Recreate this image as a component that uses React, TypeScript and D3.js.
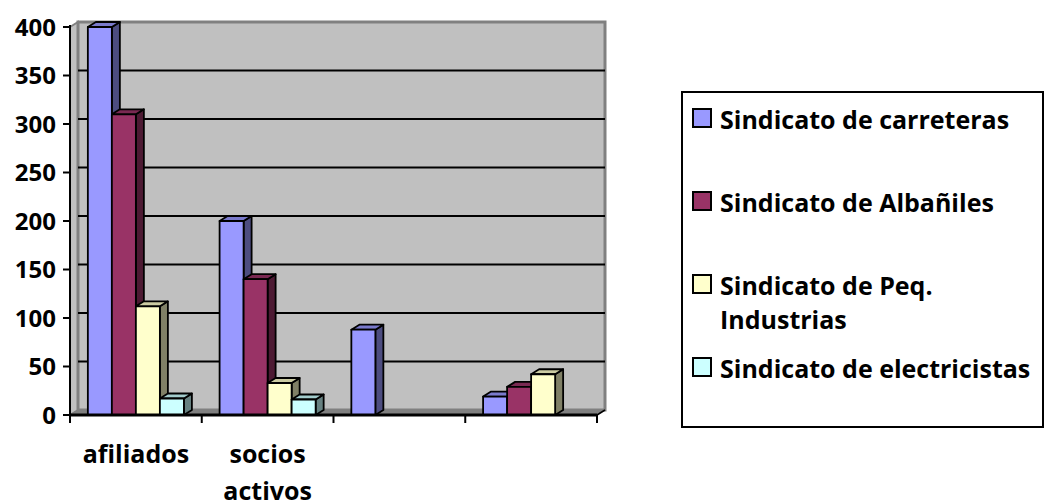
import { useEffect, useRef } from "react"
import * as d3 from "d3"

const categories = ["afiliados", "socios activos", "", ""]
const seriesNames = [
  "Sindicato de carreteras",
  "Sindicato de Albañiles",
  "Sindicato de Peq. Industrias",
  "Sindicato de electricistas",
]
const carreteras = [400, 200, 88, 19]
const albaniles = [310, 140, null, 29]
const peqIndustrias = [112, 33, null, 42]
const electricistas = [17, 16, null, null]
const yTicks = [0, 50, 100, 150, 200, 250, 300, 350, 400]
const legendLines = [
  ["Sindicato de carreteras"],
  ["Sindicato de Albañiles"],
  ["Sindicato de Peq.", "Industrias"],
  ["Sindicato de electricistas"],
]

const front = ["#9999FF", "#993366", "#FFFFCC", "#CCFFFF"]
const top = ["#7A7ACC", "#7A2952", "#CCCCA3", "#A3CCCC"]
const side = ["#4D4D80", "#4D1A33", "#808066", "#668080"]

export default function App() {
  const svgRef = useRef<SVGSVGElement>(null)

  useEffect(() => {
    if (!svgRef.current) return
    const width = 1047
    const height = 501
    const dx = 8
    const dy = 5
    const font = "'Open Sans', sans-serif"

    d3.select(svgRef.current).selectAll("*").remove()
    const svg = d3.select(svgRef.current).attr("width", width).attr("height", height)

    const values = [carreteras, albaniles, peqIndustrias, electricistas]
    const y = d3.scaleLinear().domain([0, 400]).range([415, 27])
    const x0 = d3
      .scaleBand<number>()
      .domain(d3.range(categories.length))
      .range([70, 597])
      .paddingInner(0.271)
      .paddingOuter(0.1355)
    const x1 = d3.scaleBand<number>().domain(d3.range(seriesNames.length)).range([0, x0.bandwidth()])
    const left = 70
    const right = 597

    // walls + floor
    svg
      .append("polygon")
      .attr("points", `${left},${y(0)} ${left},${y(400)} ${left + dx},${y(400) - dy} ${left + dx},${y(0) - dy}`)
      .attr("fill", "#C0C0C0")
      .attr("stroke", "#808080")
      .attr("stroke-width", 2)
    svg
      .append("rect")
      .attr("x", left + dx)
      .attr("y", y(400) - dy)
      .attr("width", right - left)
      .attr("height", y(0) - y(400))
      .attr("fill", "#C0C0C0")
      .attr("stroke", "#808080")
      .attr("stroke-width", 3)
    svg
      .append("polygon")
      .attr("points", `${left},${y(0)} ${right},${y(0)} ${right + dx},${y(0) - dy} ${left + dx},${y(0) - dy}`)
      .attr("fill", "#808080")
      .attr("stroke", "#808080")
      .attr("stroke-width", 1)

    // gridlines
    svg
      .selectAll(".grid")
      .data(yTicks.filter((t) => t > 0 && t < 400))
      .enter()
      .append("line")
      .attr("x1", left + dx)
      .attr("x2", right + dx)
      .attr("y1", (d) => y(d) - dy)
      .attr("y2", (d) => y(d) - dy)
      .attr("stroke", "#000")
      .attr("stroke-width", 2)

    // bars
    const g = svg.append("g").attr("stroke", "#000").attr("stroke-width", 1.8).attr("stroke-linejoin", "round")
    categories.forEach((_, i) => {
      values.forEach((arr, j) => {
        const v = arr[i]
        if (v == null) return
        const x = (x0(i) as number) + (x1(j) as number)
        const w = x1.bandwidth()
        const yt = y(v)
        const yb = y(0)
        g.append("polygon")
          .attr("points", `${x + w},${yt} ${x + w + dx},${yt - dy} ${x + w + dx},${yb - dy} ${x + w},${yb}`)
          .attr("fill", side[j])
        g.append("polygon")
          .attr("points", `${x},${yt} ${x + dx},${yt - dy} ${x + w + dx},${yt - dy} ${x + w},${yt}`)
          .attr("fill", top[j])
        g.append("rect").attr("x", x).attr("y", yt).attr("width", w).attr("height", yb - yt).attr("fill", front[j])
      })
    })

    // axes
    svg
      .append("line")
      .attr("x1", left)
      .attr("x2", left)
      .attr("y1", y(400) - 2)
      .attr("y2", y(0))
      .attr("stroke", "#000")
      .attr("stroke-width", 2)
    svg
      .append("line")
      .attr("x1", left)
      .attr("x2", right)
      .attr("y1", y(0))
      .attr("y2", y(0))
      .attr("stroke", "#000")
      .attr("stroke-width", 3)
    svg
      .append("line")
      .attr("x1", right)
      .attr("x2", right + dx)
      .attr("y1", y(0))
      .attr("y2", y(0) - dy)
      .attr("stroke", "#000")
      .attr("stroke-width", 1.5)

    svg
      .selectAll(".ytick")
      .data(yTicks)
      .enter()
      .append("line")
      .attr("x1", left - 7)
      .attr("x2", left)
      .attr("y1", (d) => y(d))
      .attr("y2", (d) => y(d))
      .attr("stroke", "#000")
      .attr("stroke-width", 2)
    svg
      .selectAll(".ylabel")
      .data(yTicks)
      .enter()
      .append("text")
      .attr("x", 56)
      .attr("y", (d) => y(d))
      .attr("dy", "0.36em")
      .attr("text-anchor", "end")
      .attr("font-family", font)
      .attr("font-weight", 700)
      .attr("font-size", 24)
      .text((d) => d)

    const xTicks = d3.range(categories.length + 1).map((i) => left + ((right - left) * i) / categories.length)
    svg
      .selectAll(".xtick")
      .data(xTicks)
      .enter()
      .append("line")
      .attr("x1", (d) => d)
      .attr("x2", (d) => d)
      .attr("y1", y(0))
      .attr("y2", y(0) + 8)
      .attr("stroke", "#000")
      .attr("stroke-width", 2)

    categories.forEach((c, i) => {
      if (!c) return
      const cx = (xTicks[i] + xTicks[i + 1]) / 2
      const t = svg
        .append("text")
        .attr("text-anchor", "middle")
        .attr("font-family", font)
        .attr("font-weight", 700)
        .attr("font-size", 25)
      c.split(" ").forEach((word, k) => {
        t.append("tspan").attr("x", cx).attr("y", 463 + k * 37).text(word)
      })
    })

    // legend
    svg
      .append("rect")
      .attr("x", 682)
      .attr("y", 92)
      .attr("width", 361)
      .attr("height", 335)
      .attr("fill", "#fff")
      .attr("stroke", "#000")
      .attr("stroke-width", 2)
    const ly = d3.scalePoint<number>().domain(d3.range(seriesNames.length)).range([129, 378])
    legendLines.forEach((lines, j) => {
      const base = ly(j) as number
      svg
        .append("rect")
        .attr("x", 693)
        .attr("y", base - 20)
        .attr("width", 18)
        .attr("height", 18)
        .attr("fill", front[j])
        .attr("stroke", "#000")
        .attr("stroke-width", 2)
      const t = svg
        .append("text")
        .attr("font-family", font)
        .attr("font-weight", 700)
        .attr("font-size", 25)
      lines.forEach((line, k) => {
        t.append("tspan").attr("x", 720).attr("y", base + k * 34).text(line)
      })
    })
  }, [])

  return (
    <div style={{ position: "absolute", left: 0, top: 0 }}>
      <svg ref={svgRef} style={{ display: "block" }} />
    </div>
  )
}
